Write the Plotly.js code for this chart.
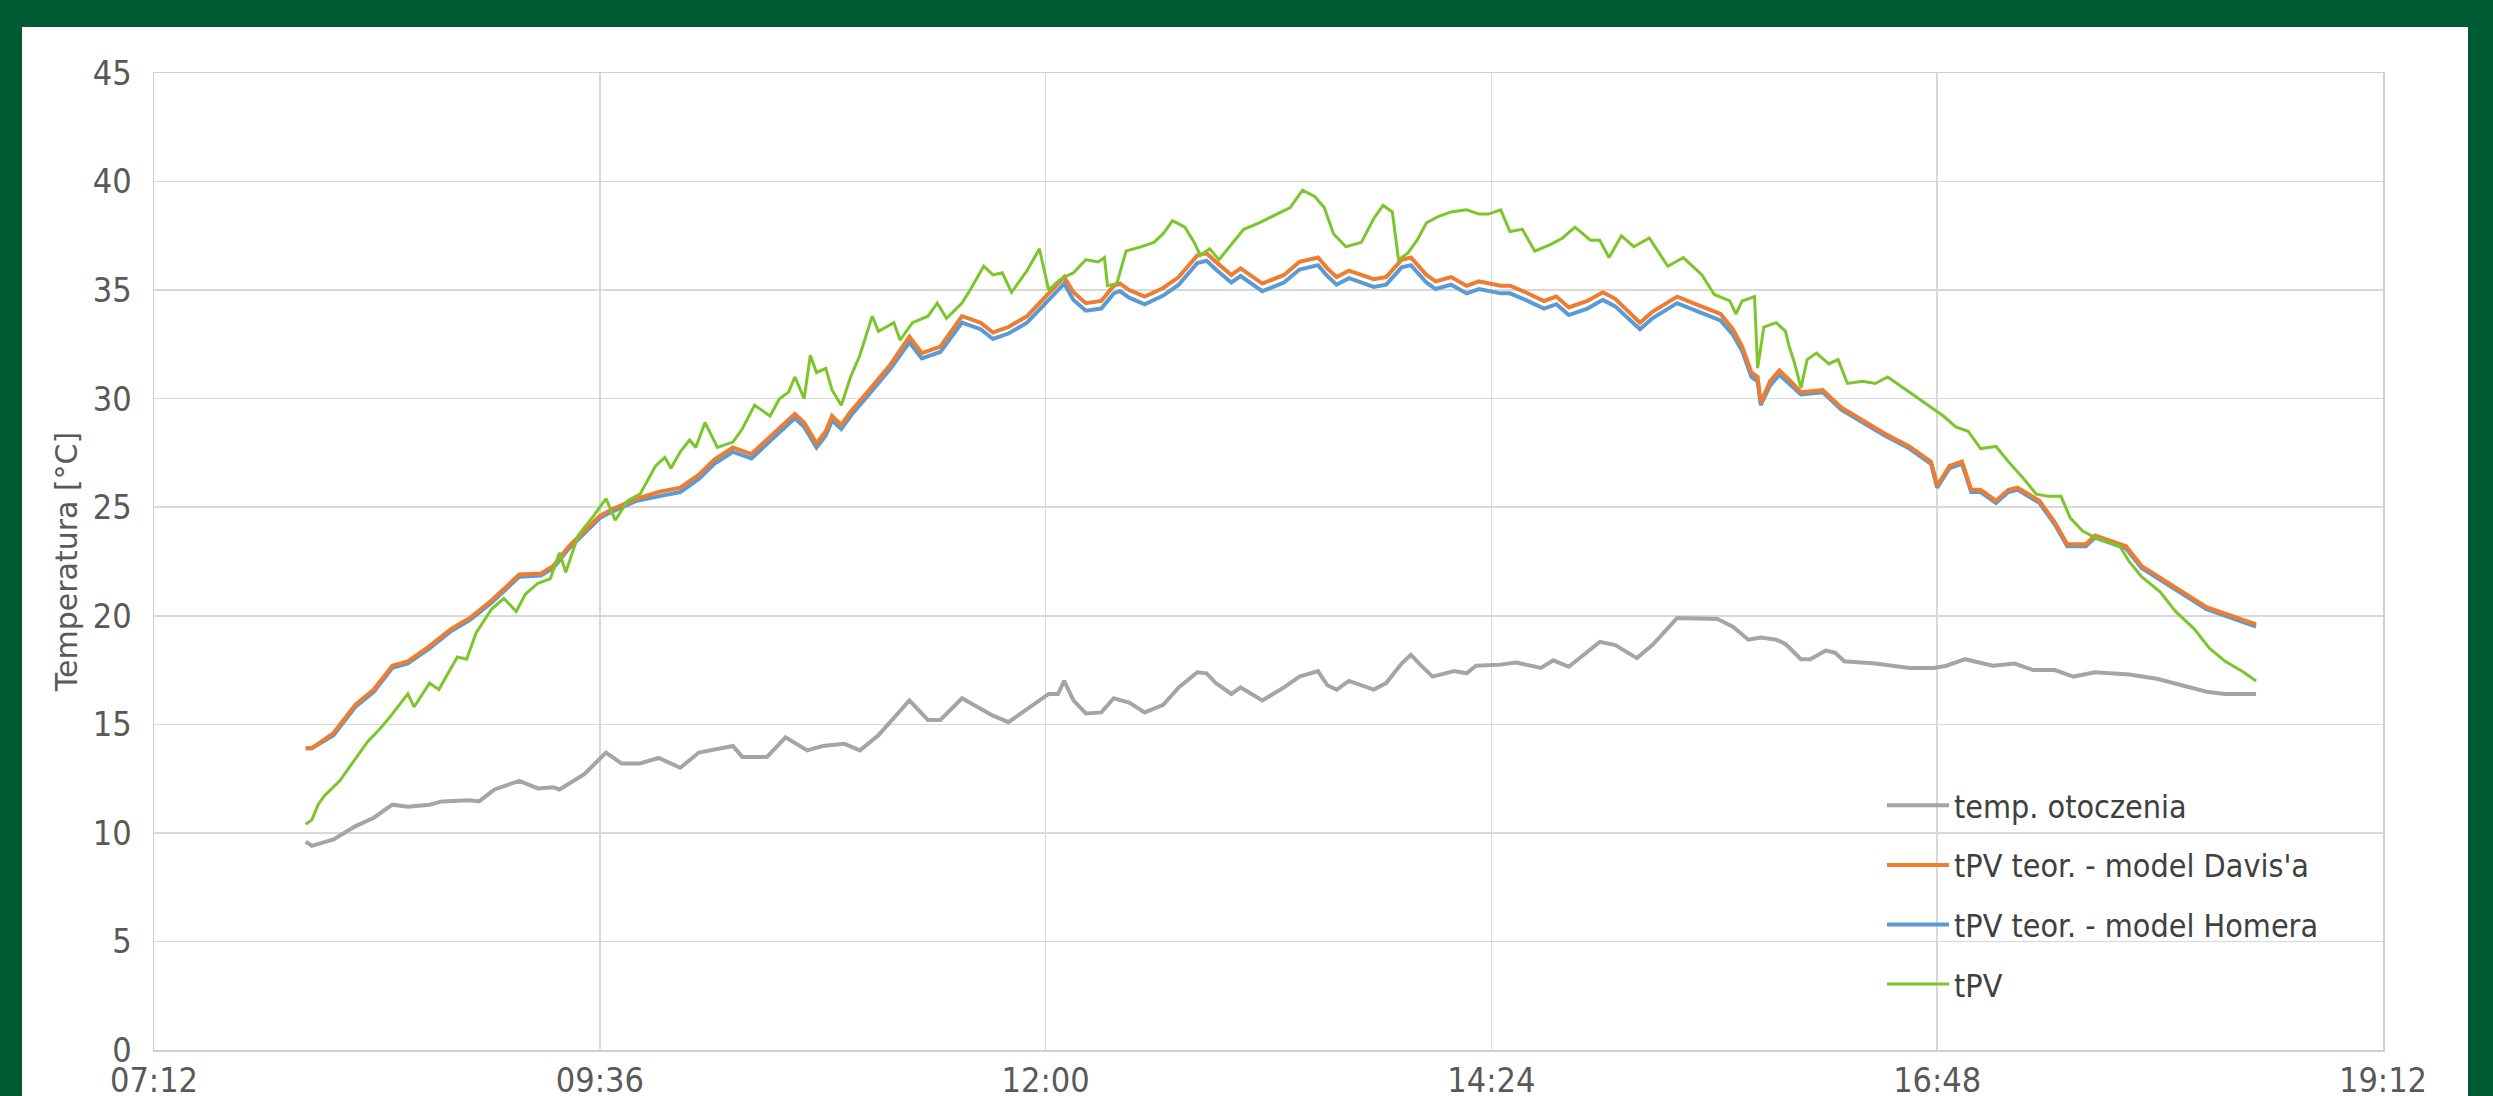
<!DOCTYPE html>
<html>
<head>
<meta charset="utf-8">
<script src="https://cdn.plot.ly/plotly-3.0.1.min.js"></script>
<style>html,body{margin:0;padding:0;background:#005a34;}#chart{width:2493px;height:1096px;}</style>
</head>
<body>
<div id="chart"></div>
<script>
// ---- data ----
const tickTimes = ["07:12","09:36","12:00","14:24","16:48","19:12"];
const yTicks = [0,5,10,15,20,25,30,35,40,45];

const ambientTime = ["08:01","08:03","08:10","08:17","08:23","08:29","08:34","08:41","08:45","08:54","08:57","09:02","09:10","09:16","09:21","09:23","09:31","09:38","09:43","09:49","09:55","10:02","10:08","10:19","10:22","10:30","10:36","10:43","10:48","10:55","11:00","11:06","11:11","11:16","11:22","11:26","11:33","11:43","11:48","11:54","12:01","12:04","12:06","12:09","12:13","12:18","12:22","12:27","12:32","12:38","12:43","12:49","12:52","12:55","13:00","13:03","13:10","13:17","13:22","13:28","13:31","13:34","13:38","13:46","13:50","13:55","13:58","14:01","14:05","14:12","14:16","14:19","14:27","14:32","14:40","14:44","14:49","14:59","15:04","15:11","15:16","15:24","15:37","15:42","15:47","15:51","15:56","15:59","16:04","16:07","16:12","16:15","16:18","16:28","16:39","16:47","16:51","16:57","17:06","17:13","17:19","17:26","17:32","17:39","17:50","17:59","18:10","18:15","18:21","18:31"];
const ambient = [9.6,9.4,9.7,10.3,10.7,11.3,11.2,11.3,11.45,11.5,11.45,12.0,12.4,12.05,12.1,12.0,12.7,13.7,13.2,13.2,13.45,13.0,13.7,14.0,13.5,13.5,14.4,13.8,14.0,14.1,13.8,14.5,15.3,16.1,15.2,15.2,16.2,15.4,15.1,15.7,16.4,16.4,17.0,16.1,15.5,15.55,16.2,16.0,15.55,15.9,16.7,17.4,17.35,16.9,16.4,16.7,16.1,16.7,17.2,17.45,16.8,16.6,17.0,16.6,16.9,17.8,18.2,17.75,17.2,17.45,17.35,17.7,17.75,17.85,17.6,17.95,17.65,18.8,18.65,18.05,18.65,19.9,19.85,19.5,18.9,19.0,18.9,18.7,18.0,18.0,18.4,18.3,17.9,17.8,17.6,17.6,17.7,18.0,17.7,17.8,17.5,17.5,17.2,17.4,17.3,17.1,16.7,16.5,16.4,16.4];

const modelTime = ["08:01","08:03","08:10","08:17","08:23","08:29","08:34","08:41","08:48","08:54","09:01","09:07","09:10","09:17","09:21","09:26","09:31","09:36","09:40","09:48","09:55","10:02","10:08","10:13","10:19","10:25","10:31","10:36","10:39","10:42","10:46","10:49","10:51","10:54","10:57","11:03","11:10","11:16","11:20","11:26","11:33","11:39","11:43","11:48","11:54","12:00","12:06","12:09","12:13","12:18","12:22","12:24","12:27","12:32","12:38","12:43","12:49","12:52","12:55","13:00","13:03","13:10","13:17","13:22","13:28","13:31","13:34","13:38","13:46","13:50","13:55","13:58","14:03","14:06","14:11","14:16","14:20","14:27","14:30","14:35","14:41","14:45","14:49","14:55","15:00","15:04","15:12","15:16","15:24","15:31","15:38","15:42","15:45","15:48","15:50","15:51","15:54","15:57","16:00","16:04","16:11","16:17","16:24","16:31","16:39","16:46","16:48","16:52","16:56","16:59","17:02","17:07","17:11","17:14","17:21","17:26","17:30","17:36","17:39","17:49","17:54","18:05","18:15","18:31"];
const davis = [13.9,13.9,14.6,15.9,16.6,17.7,17.9,18.6,19.4,19.9,20.7,21.5,21.9,21.95,22.3,23.2,23.9,24.6,24.9,25.4,25.7,25.9,26.5,27.2,27.75,27.45,28.25,28.9,29.3,28.9,27.95,28.5,29.2,28.8,29.4,30.4,31.6,32.85,32.1,32.4,33.8,33.5,33.05,33.3,33.8,34.7,35.6,34.9,34.4,34.5,35.2,35.3,35.0,34.7,35.1,35.6,36.6,36.7,36.3,35.7,36.0,35.3,35.7,36.3,36.5,36.0,35.6,35.9,35.5,35.6,36.4,36.5,35.7,35.4,35.6,35.2,35.4,35.2,35.2,34.9,34.5,34.7,34.2,34.5,34.9,34.6,33.5,34.0,34.7,34.3,33.9,33.2,32.4,31.2,31.0,29.8,30.8,31.3,30.9,30.3,30.4,29.6,29.0,28.4,27.8,27.1,26.0,26.9,27.1,25.8,25.8,25.3,25.8,25.9,25.3,24.3,23.3,23.3,23.7,23.2,22.3,21.3,20.4,19.6];
const homer = [13.9,13.9,14.5,15.8,16.5,17.6,17.8,18.5,19.3,19.8,20.6,21.4,21.8,21.85,22.2,23.1,23.8,24.5,24.8,25.3,25.5,25.7,26.3,27.0,27.55,27.25,28.05,28.7,29.1,28.7,27.75,28.3,29.0,28.6,29.2,30.2,31.4,32.6,31.85,32.15,33.5,33.2,32.75,33.0,33.5,34.4,35.3,34.55,34.05,34.15,34.85,34.95,34.65,34.35,34.75,35.25,36.25,36.35,35.95,35.35,35.65,34.95,35.35,35.95,36.15,35.65,35.25,35.55,35.15,35.25,36.05,36.15,35.35,35.05,35.25,34.85,35.05,34.85,34.85,34.55,34.15,34.35,33.85,34.15,34.55,34.25,33.2,33.7,34.4,34.0,33.6,32.95,32.2,31.0,30.8,29.7,30.6,31.1,30.7,30.2,30.3,29.5,28.9,28.3,27.7,27.0,25.9,26.8,27.0,25.7,25.7,25.2,25.7,25.8,25.2,24.2,23.2,23.2,23.6,23.1,22.2,21.2,20.3,19.5];

const pvTime = ["08:01","08:03","08:05","08:07","08:12","08:16","08:21","08:25","08:28","08:34","08:36","08:41","08:44","08:50","08:53","08:56","09:01","09:05","09:09","09:12","09:16","09:20","09:23","09:25","09:29","09:34","09:38","09:41","09:45","09:49","09:54","09:57","09:59","10:02","10:05","10:07","10:10","10:14","10:19","10:22","10:26","10:31","10:34","10:37","10:39","10:42","10:44","10:46","10:49","10:51","10:54","10:57","11:00","11:04","11:06","11:11","11:13","11:17","11:22","11:25","11:28","11:33","11:36","11:40","11:43","11:46","11:49","11:54","11:58","12:01","12:04","12:06","12:09","12:13","12:17","12:19","12:20","12:23","12:26","12:31","12:35","12:38","12:41","12:45","12:48","12:50","12:53","12:56","13:00","13:04","13:09","13:15","13:19","13:23","13:27","13:30","13:33","13:37","13:42","13:46","13:49","13:52","13:54","13:57","14:00","14:03","14:07","14:11","14:16","14:20","14:23","14:27","14:30","14:34","14:38","14:43","14:47","14:51","14:56","14:59","15:02","15:06","15:10","15:15","15:21","15:26","15:32","15:36","15:41","15:43","15:45","15:49","15:50","15:52","15:56","15:59","16:00","16:02","16:04","16:06","16:09","16:13","16:16","16:19","16:24","16:28","16:32","16:37","16:42","16:46","16:50","16:54","16:58","17:02","17:07","17:11","17:16","17:20","17:24","17:28","17:31","17:35","17:39","17:43","17:47","17:50","17:54","18:00","18:05","18:11","18:16","18:21","18:27","18:31"];
const pv = [10.4,10.6,11.3,11.7,12.4,13.2,14.2,14.8,15.3,16.4,15.8,16.9,16.6,18.1,18.0,19.2,20.3,20.8,20.2,21.0,21.5,21.7,22.9,22.0,23.7,24.6,25.4,24.4,25.3,25.6,26.9,27.3,26.8,27.55,28.1,27.75,28.9,27.75,28.0,28.6,29.7,29.2,30.0,30.3,31.0,30.0,32.0,31.2,31.4,30.4,29.7,31.0,32.0,33.8,33.1,33.5,32.7,33.5,33.8,34.4,33.7,34.4,35.1,36.1,35.7,35.8,34.9,35.9,36.9,35.0,35.4,35.6,35.8,36.4,36.3,36.5,35.2,35.3,36.8,37.0,37.2,37.6,38.2,37.9,37.2,36.6,36.9,36.4,37.1,37.8,38.1,38.5,38.8,39.6,39.3,38.8,37.6,37.0,37.2,38.3,38.9,38.6,36.4,36.7,37.3,38.1,38.4,38.6,38.7,38.5,38.5,38.7,37.7,37.8,36.8,37.1,37.4,37.9,37.3,37.3,36.5,37.5,37.0,37.4,36.1,36.5,35.7,34.8,34.5,33.9,34.5,34.7,31.4,33.3,33.5,33.1,32.5,31.6,30.5,31.8,32.1,31.6,31.8,30.7,30.8,30.7,31.0,30.5,30.0,29.6,29.2,28.7,28.5,27.7,27.8,27.1,26.3,25.6,25.5,25.5,24.5,23.9,23.6,23.4,23.2,22.5,21.8,21.1,20.2,19.4,18.5,17.9,17.4,17.0];

const seriesNames = ["temp. otoczenia","tPV teor. - model Davis'a","tPV teor. - model Homera","tPV"];
const seriesColors = ["#a5a5a5","#ed7d31","#5b9bd5","#7cc62c"];
const yTitle = "Temperatura [°C]";

// ---- build chart ----
const DAY = "2000-01-01 ";
const toDate = arr => arr.map(t => DAY + t);

function mk(name, tArr, vArr, color, width, rank) {
  return {type:"scatter", mode:"lines", name:name, x:toDate(tArr), y:vArr,
    line:{color:color, width:width}, legendrank:rank, legendgroup:name, hoverinfo:"skip"};
}
const data = [
  mk(seriesNames[0], ambientTime, ambient, seriesColors[0], 4, 1),
  mk(seriesNames[2], modelTime, homer, seriesColors[2], 4, 3),
  mk(seriesNames[1], modelTime, davis, seriesColors[1], 4, 2),
  mk(seriesNames[3], pvTime, pv, seriesColors[3], 3, 4)
];

const tickFont = {family:"Liberation Sans Narrow, DejaVu Sans Condensed, Arial Narrow, sans-serif", size:34, color:"#595959"};
const W = 2493, H = 1096, L = 154, R = 110, T = 73, B = 46;
const pw = W - L - R, ph = H - T - B;

const layout = {
  width:W, height:H,
  margin:{l:L, r:R, t:T, b:B, pad:0},
  paper_bgcolor:"#005a34",
  plot_bgcolor:"#ffffff",
  showlegend:true,
  shapes:[{type:"rect", xref:"paper", yref:"paper", layer:"below",
    x0:(22-L)/pw, x1:(2468-L)/pw, y0:-0.2, y1:(H-B-27)/ph,
    fillcolor:"#ffffff", line:{width:0}}],
  xaxis:{type:"date", range:[DAY+tickTimes[0], DAY+tickTimes[tickTimes.length-1]],
    tickmode:"array", tickvals:toDate(tickTimes), ticktext:tickTimes,
    showgrid:true, gridcolor:"#d9d9d9", gridwidth:1.5,
    showline:true, mirror:true, linecolor:"#cfcfcf", linewidth:1.5,
    ticks:"", tickfont:tickFont, ticklabelstandoff:0, automargin:false, zeroline:false, fixedrange:true},
  yaxis:{range:[0,45], tickmode:"array", tickvals:yTicks,
    showgrid:true, gridcolor:"#d9d9d9", gridwidth:1.5,
    showline:true, mirror:true, linecolor:"#cfcfcf", linewidth:1.5,
    ticks:"", tickfont:tickFont, ticklabelstandoff:14, automargin:false, zeroline:false, fixedrange:true,
    title:{text:yTitle, font:{family:"DejaVu Sans, sans-serif", size:30, color:"#595959"}, standoff:6}},
  legend:{x:(1882-L)/pw, xanchor:"left", y:(H-B-778)/ph, yanchor:"top",
    bgcolor:"rgba(255,255,255,0)", borderwidth:0,
    font:{family:"Liberation Sans Narrow, DejaVu Sans Condensed, sans-serif", size:32, color:"#404040"},
    tracegroupgap:15, itemwidth:62, traceorder:"grouped"}
};

Plotly.newPlot("chart", data, layout, {staticPlot:true, displayModeBar:false});
</script>
</body>
</html>
